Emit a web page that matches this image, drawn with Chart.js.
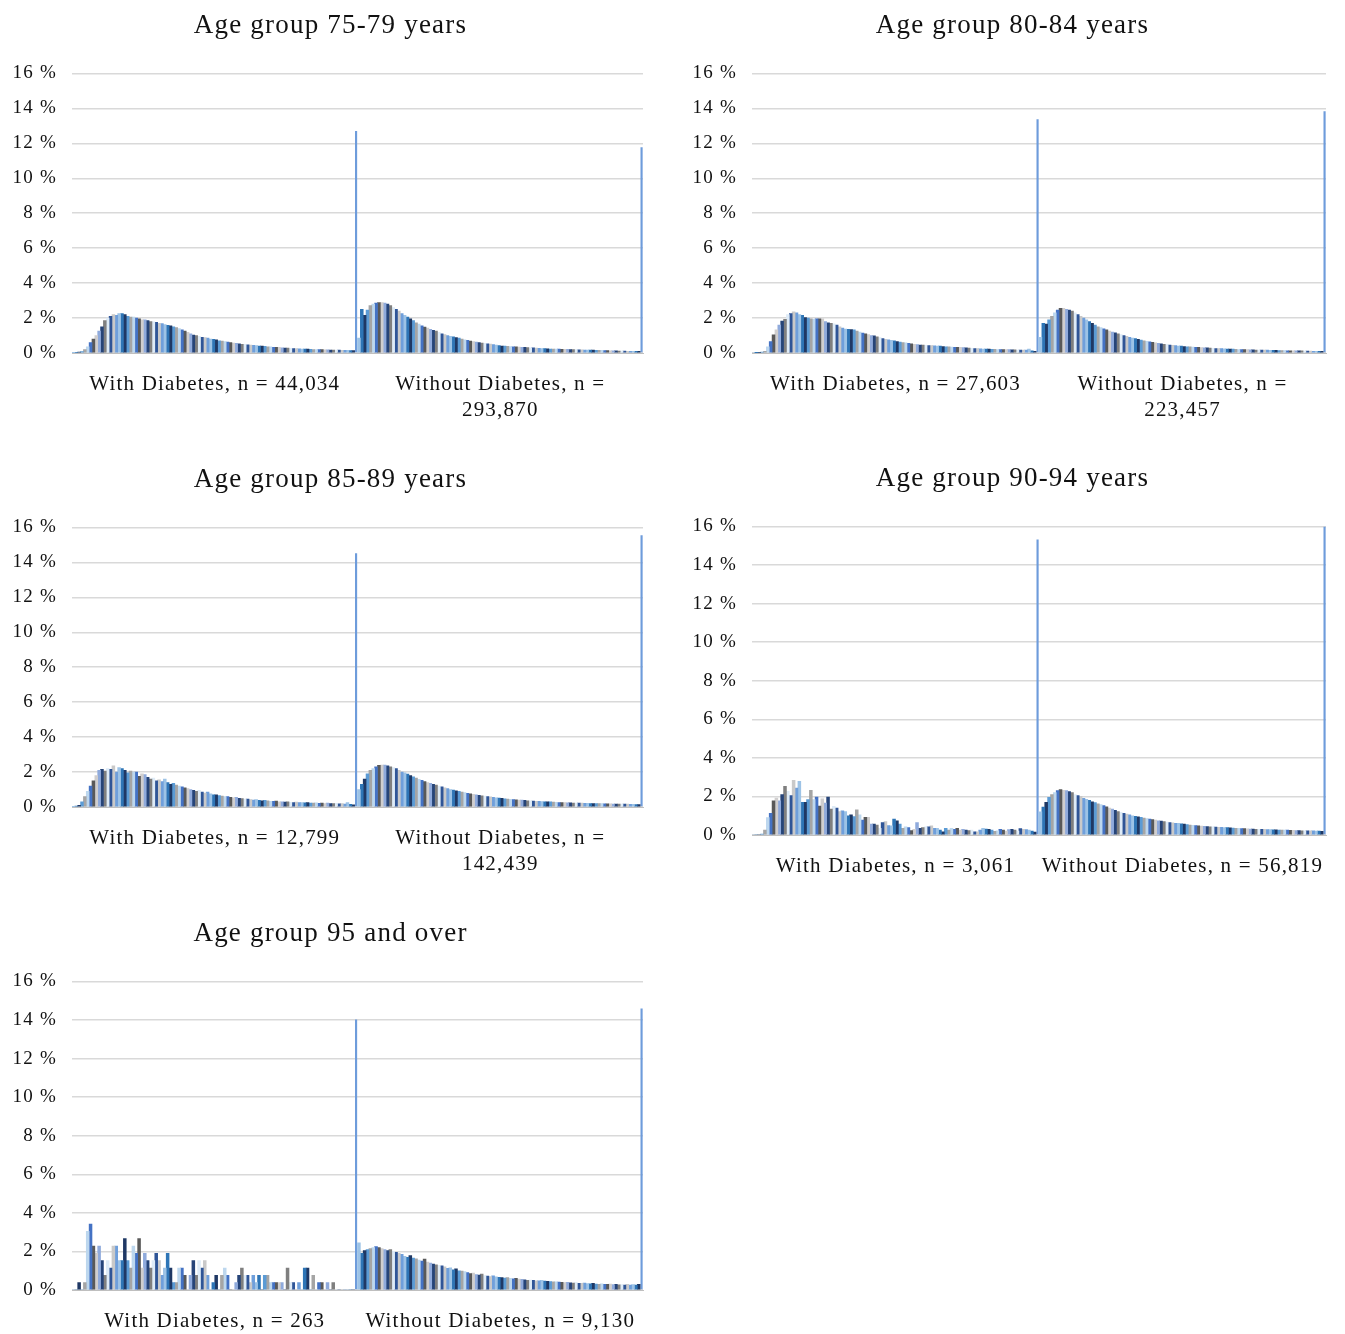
<!DOCTYPE html>
<html>
<head>
<meta charset="utf-8">
<script src="https://cdn.jsdelivr.net/npm/chart.js@4.4.1/dist/chart.umd.min.js"></script>
<style>
  html, body { margin: 0; padding: 0; background: #fff; }
  body { width: 1345px; height: 1334px; position: relative; overflow: hidden; }
  .panel { position: absolute; }
</style>
</head>
<body>
<div class="panel" style="left:0;top:0"><canvas id="chart-7579" width="660" height="430"></canvas></div>
<div class="panel" style="left:680px;top:0"><canvas id="chart-8084" width="665" height="430"></canvas></div>
<div class="panel" style="left:0;top:454px"><canvas id="chart-8589" width="660" height="430"></canvas></div>
<div class="panel" style="left:680px;top:453px"><canvas id="chart-9094" width="665" height="430"></canvas></div>
<div class="panel" style="left:0;top:908px"><canvas id="chart-95" width="660" height="430"></canvas></div>
<script>
// share of patients (%) per bin, last value of each list is the final (open-ended) bin
const with7579 = [
  0.02, 0.03, 0.05, 0.08, 0.2, 0.35, 0.6, 0.8, 1.0, 1.25,
  1.5, 1.85, 2.0, 2.1, 2.2, 2.15, 2.25, 2.25, 2.2, 2.1,
  2.05, 2.05, 2.0, 1.95, 1.9, 1.9, 1.85, 1.8, 1.78, 1.75,
  1.7, 1.68, 1.62, 1.58, 1.55, 1.5, 1.45, 1.4, 1.32, 1.25,
  1.18, 1.1, 1.03, 1.0, 0.95, 0.9, 0.88, 0.85, 0.8, 0.78,
  0.75, 0.7, 0.68, 0.65, 0.63, 0.6, 0.57, 0.55, 0.52, 0.5,
  0.5, 0.47, 0.45, 0.44, 0.42, 0.4, 0.4, 0.38, 0.36, 0.35,
  0.33, 0.32, 0.32, 0.3, 0.28, 0.28, 0.27, 0.26, 0.25, 0.24,
  0.23, 0.22, 0.22, 0.21, 0.2, 0.2, 0.19, 0.19, 0.18, 0.18,
  0.17, 0.17, 0.16, 0.16, 0.15, 0.15, 0.15, 0.14, 0.14, 12.7,
];
const without7579 = [
  0.85, 2.5, 2.15, 2.45, 2.72, 2.8, 2.86, 2.88, 2.88, 2.86,
  2.8, 2.72, 2.6, 2.5, 2.4, 2.25, 2.15, 2.05, 1.95, 1.85,
  1.72, 1.65, 1.55, 1.48, 1.42, 1.35, 1.3, 1.25, 1.18, 1.1,
  1.05, 1.0, 0.95, 0.92, 0.88, 0.85, 0.8, 0.76, 0.72, 0.68,
  0.65, 0.62, 0.6, 0.57, 0.55, 0.53, 0.51, 0.48, 0.45, 0.42,
  0.4, 0.39, 0.38, 0.37, 0.36, 0.35, 0.34, 0.33, 0.32, 0.31,
  0.3, 0.29, 0.28, 0.27, 0.26, 0.25, 0.24, 0.23, 0.23, 0.22,
  0.22, 0.21, 0.21, 0.21, 0.2, 0.19, 0.19, 0.18, 0.18, 0.17,
  0.17, 0.16, 0.16, 0.15, 0.15, 0.15, 0.14, 0.14, 0.13, 0.13,
  0.12, 0.11, 0.11, 0.11, 0.1, 0.1, 0.1, 0.1, 0.1, 11.77,
];
const with8084 = [
  0.0, 0.02, 0.03, 0.05, 0.1, 0.35, 0.65, 1.04, 1.33, 1.6,
  1.82, 1.92, 2.2, 2.25, 2.35, 2.3, 2.2, 2.15, 2.02, 2.0,
  1.95, 1.92, 1.95, 1.96, 1.96, 1.8, 1.72, 1.7, 1.67, 1.6,
  1.5, 1.42, 1.37, 1.35, 1.34, 1.33, 1.25, 1.2, 1.14, 1.1,
  1.05, 1.0, 0.98, 0.92, 0.88, 0.82, 0.78, 0.75, 0.72, 0.69,
  0.66, 0.63, 0.6, 0.58, 0.55, 0.53, 0.5, 0.48, 0.46, 0.45,
  0.44, 0.43, 0.42, 0.41, 0.4, 0.39, 0.37, 0.36, 0.35, 0.34,
  0.33, 0.32, 0.32, 0.31, 0.3, 0.28, 0.27, 0.25, 0.25, 0.24,
  0.23, 0.23, 0.22, 0.21, 0.21, 0.2, 0.2, 0.2, 0.19, 0.19,
  0.18, 0.18, 0.17, 0.17, 0.16, 0.16, 0.22, 0.12, 0.1, 13.37,
];
const without8084 = [
  0.9, 1.7, 1.65, 1.9, 2.1, 2.3, 2.45, 2.55, 2.55, 2.5,
  2.45, 2.4, 2.3, 2.2, 2.1, 2.0, 1.9, 1.8, 1.7, 1.6,
  1.5, 1.45, 1.38, 1.32, 1.25, 1.2, 1.15, 1.1, 1.05, 1.0,
  0.95, 0.9, 0.86, 0.82, 0.78, 0.74, 0.7, 0.67, 0.64, 0.61,
  0.58, 0.55, 0.52, 0.5, 0.48, 0.46, 0.44, 0.42, 0.4, 0.39,
  0.37, 0.36, 0.35, 0.34, 0.33, 0.32, 0.31, 0.3, 0.29, 0.28,
  0.27, 0.26, 0.25, 0.25, 0.24, 0.23, 0.22, 0.22, 0.21, 0.2,
  0.2, 0.19, 0.19, 0.18, 0.18, 0.17, 0.17, 0.17, 0.16, 0.16,
  0.15, 0.15, 0.15, 0.14, 0.14, 0.14, 0.13, 0.13, 0.13, 0.12,
  0.12, 0.12, 0.11, 0.11, 0.11, 0.1, 0.1, 0.1, 0.1, 13.83,
];
const with8589 = [
  0.02, 0.05, 0.1, 0.3, 0.6, 0.9, 1.2, 1.5, 1.8, 2.1,
  2.15, 2.05, 2.2, 2.15, 2.35, 2.0, 2.25, 2.2, 2.1, 1.95,
  2.05, 2.0, 2.0, 1.75, 1.9, 1.85, 1.7, 1.6, 1.65, 1.5,
  1.55, 1.45, 1.6, 1.4, 1.3, 1.35, 1.25, 1.2, 1.15, 1.1,
  1.05, 1.0, 0.95, 0.9, 0.95, 0.85, 0.8, 0.85, 0.75, 0.7,
  0.7, 0.65, 0.62, 0.6, 0.6, 0.55, 0.52, 0.55, 0.5, 0.48,
  0.45, 0.45, 0.42, 0.4, 0.42, 0.38, 0.36, 0.38, 0.35, 0.33,
  0.32, 0.34, 0.3, 0.3, 0.28, 0.3, 0.27, 0.26, 0.28, 0.25,
  0.25, 0.24, 0.26, 0.23, 0.22, 0.24, 0.21, 0.22, 0.2, 0.22,
  0.2, 0.19, 0.21, 0.18, 0.2, 0.17, 0.25, 0.15, 0.12, 14.52,
];
const without8589 = [
  1.0, 1.3, 1.6, 1.9, 2.1, 2.2, 2.3, 2.38, 2.4, 2.4,
  2.35, 2.3, 2.25, 2.2, 2.1, 2.0, 1.95, 1.88, 1.8, 1.72,
  1.65, 1.58, 1.52, 1.45, 1.4, 1.35, 1.3, 1.25, 1.2, 1.15,
  1.1, 1.05, 1.0, 0.97, 0.93, 0.9, 0.86, 0.82, 0.78, 0.75,
  0.72, 0.7, 0.67, 0.64, 0.62, 0.6, 0.58, 0.55, 0.53, 0.51,
  0.49, 0.47, 0.46, 0.44, 0.43, 0.41, 0.4, 0.39, 0.38, 0.36,
  0.35, 0.34, 0.33, 0.32, 0.31, 0.3, 0.29, 0.29, 0.28, 0.27,
  0.26, 0.26, 0.25, 0.24, 0.24, 0.23, 0.23, 0.22, 0.22, 0.21,
  0.21, 0.2, 0.2, 0.2, 0.19, 0.19, 0.18, 0.18, 0.18, 0.17,
  0.17, 0.17, 0.16, 0.16, 0.16, 0.15, 0.15, 0.14, 0.14, 15.55,
];
const with9094 = [
  0, 0, 0, 0.05, 0.26, 0.9, 1.13, 1.77, 1.91, 1.77,
  2.1, 2.52, 2.26, 2.05, 2.83, 2.43, 2.78, 1.7, 1.7, 1.83,
  2.31, 1.83, 1.97, 1.5, 1.87, 1.65, 1.97, 1.34, 1.48, 1.39,
  1.22, 1.25, 1.22, 1.0, 1.04, 0.96, 1.3, 1.04, 0.78, 0.92,
  0.92, 0.57, 0.56, 0.52, 0.35, 0.64, 0.7, 0.49, 0.47, 0.82,
  0.73, 0.57, 0.35, 0.43, 0.38, 0.23, 0.3, 0.64, 0.35, 0.38,
  0.43, 0.43, 0.47, 0.35, 0.35, 0.26, 0.16, 0.35, 0.26, 0.35,
  0.3, 0.35, 0.26, 0.3, 0.26, 0.23, 0.26, 0.17, 0.17, 0.26,
  0.35, 0.31, 0.3, 0.26, 0.19, 0.22, 0.3, 0.25, 0.2, 0.28,
  0.3, 0.25, 0.2, 0.33, 0.3, 0.28, 0.25, 0.2, 0.15, 15.32,
];
const without9094 = [
  1.2, 1.45, 1.7, 1.95, 2.1, 2.2, 2.3, 2.35, 2.32, 2.3,
  2.25, 2.2, 2.1, 2.05, 2.0, 1.9, 1.85, 1.8, 1.72, 1.68,
  1.62, 1.58, 1.52, 1.46, 1.4, 1.35, 1.28, 1.22, 1.18, 1.12,
  1.08, 1.04, 1.0, 0.97, 0.94, 0.91, 0.88, 0.85, 0.82, 0.8,
  0.77, 0.74, 0.72, 0.7, 0.67, 0.65, 0.63, 0.61, 0.6, 0.58,
  0.56, 0.54, 0.52, 0.5, 0.49, 0.48, 0.46, 0.45, 0.44, 0.43,
  0.42, 0.41, 0.4, 0.4, 0.39, 0.38, 0.37, 0.36, 0.35, 0.34,
  0.33, 0.33, 0.32, 0.31, 0.31, 0.3, 0.3, 0.29, 0.29, 0.28,
  0.28, 0.27, 0.27, 0.26, 0.26, 0.25, 0.25, 0.24, 0.24, 0.23,
  0.23, 0.22, 0.22, 0.22, 0.21, 0.21, 0.2, 0.2, 0.19, 16.0,
];
const with95 = [
  0, 0, 0.38, 0, 0.38, 3.04, 3.42, 2.28, 1.9, 2.28,
  1.52, 0.76, 1.52, 1.14, 2.28, 2.28, 1.52, 1.52, 2.66, 1.52,
  1.14, 2.28, 1.9, 2.66, 1.14, 1.9, 1.52, 1.14, 1.52, 1.9,
  1.52, 0.76, 1.14, 1.9, 1.14, 0.38, 0.38, 1.14, 1.14, 0.76,
  0, 0.76, 1.52, 0.76, 1.52, 1.14, 1.52, 0.76, 0, 0.38,
  0.76, 0, 0.76, 1.14, 0.76, 0, 0, 0.38, 0.76, 1.14,
  0.76, 0.76, 0.38, 0.76, 0.38, 0.76, 0, 0.76, 0.76, 0.38,
  0.38, 0.38, 0.38, 0.38, 0, 1.14, 0.38, 0.38, 0, 0.38,
  0, 1.14, 1.14, 0, 0.76, 0, 0.38, 0.38, 0, 0.38,
  0, 0.38, 0, 0, 0, 0, 0, 0, 0, 14.03,
];
const without95 = [
  2.45, 1.9, 2.05, 2.1, 2.15, 2.2, 2.25, 2.2, 2.15, 2.1,
  2.05, 2.1, 2.0, 1.95, 1.9, 1.85, 1.75, 1.7, 1.78, 1.65,
  1.62, 1.55, 1.5, 1.6, 1.45, 1.4, 1.35, 1.3, 1.28, 1.25,
  1.2, 1.12, 1.15, 1.05, 1.1, 1.0, 0.98, 0.95, 0.9, 0.85,
  0.88, 0.8, 0.78, 0.82, 0.75, 0.72, 0.7, 0.74, 0.68, 0.66,
  0.64, 0.62, 0.65, 0.6, 0.58, 0.6, 0.56, 0.55, 0.53, 0.5,
  0.52, 0.5, 0.48, 0.47, 0.5, 0.46, 0.45, 0.44, 0.42, 0.43,
  0.41, 0.4, 0.38, 0.4, 0.37, 0.36, 0.38, 0.35, 0.34, 0.36,
  0.33, 0.32, 0.34, 0.31, 0.3, 0.32, 0.3, 0.29, 0.31, 0.28,
  0.3, 0.27, 0.28, 0.26, 0.3, 0.25, 0.28, 0.26, 0.3, 14.6,
];

const panelTitles = [
  'Age group 75-79 years',
  'Age group 80-84 years',
  'Age group 85-89 years',
  'Age group 90-94 years',
  'Age group 95 and over',
];
const groupLabels = [
  [['With Diabetes, n = 44,034'], ['Without Diabetes, n =', '293,870']],
  [['With Diabetes, n = 27,603'], ['Without Diabetes, n =', '223,457']],
  [['With Diabetes, n = 12,799'], ['Without Diabetes, n =', '142,439']],
  [['With Diabetes, n = 3,061'], ['Without Diabetes, n = 56,819']],
  [['With Diabetes, n = 263'], ['Without Diabetes, n = 9,130']],
];
const yTicks = [0, 2, 4, 6, 8, 10, 12, 14, 16];

const SERIF = "'Liberation Serif', 'Times New Roman', serif";
const BAR_COLORS = [
  '#9DC3E6', '#2E75B6', '#1F3864', '#5B9BD5', '#A5A5A5', '#BDD7EE', '#4472C4', '#595959',
  '#D0CECE', '#8FAADC', '#264478', '#7F7F7F', '#DEEBF7', '#2F5597', '#C9C9C9', '#6F9FDB',
];
const SPIKE_COLOR = '#6E9CDB';

// Excel renders this serif text with looser tracking than the canvas default
const looseTextPlugin = {
    id: 'looseText',
    beforeDraw(chart) {
        chart.ctx.letterSpacing = '1.2px';
    },
};

// the original titles sit centred over the whole panel incl. the tick column
const titleShiftPlugin = {
    id: 'titleShift',
    afterLayout(chart, args, opts) {
        if (chart.titleBlock) chart.titleBlock.left = opts.shift || 0;
    },
};

function createAgeChart(canvasId, idx, withVals, withoutVals) {
    const canvas = document.getElementById(canvasId);
    if (!canvas) return;
    const twoLine = groupLabels[idx].some(l => l.length > 1);
    const rightCol = idx % 2 === 1;
    const lastIdx = withVals.length - 1;

    const datasets = withVals.map((v, i) => ({
        label: `bin ${i + 1}`,
        data: [v, withoutVals[i]],
        backgroundColor: i === lastIdx ? SPIKE_COLOR : BAR_COLORS[i % BAR_COLORS.length],
        borderWidth: 0,
        categoryPercentage: 1,
        barPercentage: i === lastIdx ? 0.75 : 1,
    }));

    try {
        new Chart(canvas.getContext('2d'), {
            type: 'bar',
            data: { labels: groupLabels[idx], datasets },
            plugins: [looseTextPlugin, titleShiftPlugin],
            options: {
                responsive: false,
                animation: false,
                layout: { padding: { top: 0, right: rightCol ? 19 : 17, bottom: 0, left: 0 } },
                plugins: {
                    legend: { display: false },
                    tooltip: { enabled: false },
                    titleShift: { shift: rightCol ? 19 : 18 },
                    title: {
                        display: true,
                        text: panelTitles[idx],
                        color: '#111',
                        font: { family: SERIF, size: 27, weight: 'normal' },
                        padding: { top: 10, bottom: 31 },
                    },
                },
                scales: {
                    x: {
                        grid: { display: false },
                        border: { display: true, color: '#BFBFBF' },
                        ticks: {
                            color: '#111',
                            font: { family: SERIF, size: 21, lineHeight: 1.24 },
                            padding: 10,
                            maxRotation: 0,
                            autoSkip: false,
                        },
                        afterFit: s => { s.height = twoLine ? 77 : 48; },
                    },
                    y: {
                        min: 0,
                        max: 16,
                        afterBuildTicks: s => { s.ticks = yTicks.map(v => ({ value: v })); },
                        grid: { color: '#D9D9D9', lineWidth: 1.5, drawTicks: false },
                        border: { display: false },
                        ticks: {
                            color: '#111',
                            font: { family: SERIF, size: 19 },
                            padding: 15,
                            callback: v => `${v} %`,
                        },
                        afterFit: s => { s.width = 72; },
                    },
                },
            },
        });
    } catch (err) {
        console.error('[AGE-CHART] FAILED:', canvasId, err);
    }
}

createAgeChart('chart-7579', 0, with7579, without7579);
createAgeChart('chart-8084', 1, with8084, without8084);
createAgeChart('chart-8589', 2, with8589, without8589);
createAgeChart('chart-9094', 3, with9094, without9094);
createAgeChart('chart-95', 4, with95, without95);
</script>
</body>
</html>
